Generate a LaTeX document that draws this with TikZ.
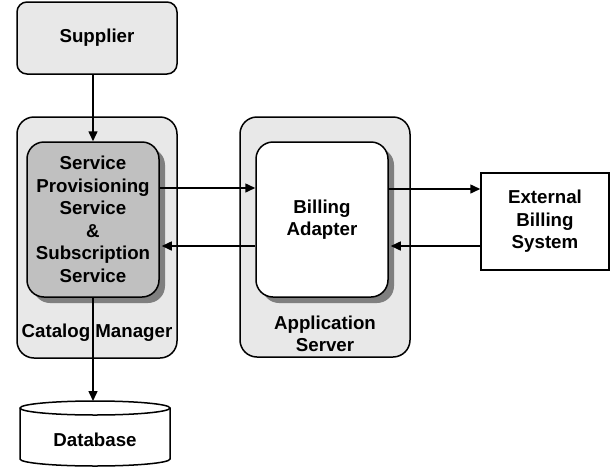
\documentclass[tikz,border=0pt]{standalone}
\usepackage{fontspec}
\setmainfont{Liberation Sans}
\usetikzlibrary{arrows.meta,calc}
\definecolor{lightbg}{HTML}{E8E8E8}
\definecolor{midgray}{HTML}{C0C0C0}
\definecolor{shadowgray}{HTML}{7F7F7F}
\begin{document}
\begin{tikzpicture}[x=1pt,y=-1pt,
  lw/.style={line width=1.5pt},
  lbl/.style={font=\bfseries\fontsize{18.7}{22.5}\selectfont, align=center},
  container/.style={lw, draw=black, fill=lightbg, rounded corners=17pt, minimum width=#1},
  innerbox/.style={lw, draw=black, rounded corners=17pt, minimum width=132pt, minimum height=155pt, inner sep=0pt},
  arr/.style={lw, -{Triangle[length=10pt,width=9pt]}}
]
\useasboundingbox (0,0) rectangle (611,469);
% Supplier
\node[lw, draw=black, fill=lightbg, rounded corners=10pt, minimum width=160pt, minimum height=72pt, lbl] (sup) at (97,38) {Supplier};
% Catalog Manager container
\node[container=160pt, minimum height=241pt] (cat) at (97,237.5) {};
\node[lbl] (catl) at (97,333) {Catalog Manager};
% SPS shadow + box
\fill[shadowgray, rounded corners=17pt] (33,148) rectangle (165,303);
\node[innerbox, fill=midgray, lbl] (sps) at (93,219.5) {Service\\Provisioning\\Service\\\&\\Subscription\\Service};
% Application Server container
\node[container=170pt, minimum height=240pt] (app) at (325,237) {};
\node[lbl] (appl) at (325,334) {Application\\Server};
\fill[shadowgray, rounded corners=17pt] (262,148) rectangle (394,303);
\node[innerbox, fill=white, lbl] (bill) at (322,219.5) {Billing\\Adapter};
% External billing
\node[lw, draw=black, fill=white, minimum width=128pt, minimum height=97pt, lbl] (ext) at (545,221.5) {External\\Billing\\System};
% Database cylinder
\coordinate (dbtop) at (95,401);
\draw[lw, fill=white] (20,408) -- (20,459) arc[start angle=180, end angle=0, x radius=75, y radius=7] -- (170,408) arc[start angle=0, end angle=-180, x radius=75, y radius=7] -- cycle;
\draw[lw] (20,408) arc[start angle=180, end angle=0, x radius=75, y radius=7];
\node[lbl] (db) at (95,440) {Database};
% Arrows
\draw[arr] (sps.north |- sup.south) -- (sps.north);
\draw[arr] (sps.south) -- (sps.south |- dbtop);
\draw[arr] (sps.east |- 0,188) -- (bill.west |- 0,188);
\draw[arr] (bill.west |- 0,246) -- ($(sps.east |- 0,246)+(2,0)$);
\draw[arr] (bill.east |- 0,189) -- (ext.west |- 0,189);
\draw[arr] (ext.west |- 0,246) -- ($(bill.east |- 0,246)+(2,0)$);
\end{tikzpicture}
\end{document}
